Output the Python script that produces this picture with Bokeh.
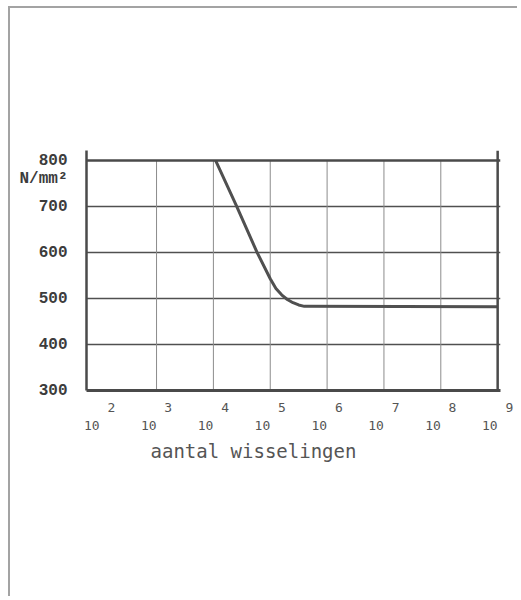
from bokeh.plotting import figure
from bokeh.models import (LinearAxis, FixedTicker, Span, ColumnDataSource)
from bokeh.embed import file_html
from bokeh.resources import INLINE

# ---- data ----
x_exponents = [2, 3, 4, 5, 6, 7, 8, 9]          # log10 of number of cycles
x_grid = [3, 4, 5, 6, 7, 8]
y_ticks = [300, 400, 500, 600, 700, 800]        # N/mm^2
curve_log_n = [4.04, 4.4, 4.77, 5.0, 5.1, 5.2, 5.3, 5.4, 5.5, 5.6, 9.0]
curve_stress = [800, 703, 600, 543, 522, 508, 498, 491, 486, 483, 482]
x_title = "aantal wisselingen"
y_unit = "N/mm²"

NB = "\u00a0"
INK = "#4a4a4a"

p = figure(width=509, height=590, x_range=(1.768, 9.05), y_range=(300, 822),
           output_backend="svg", toolbar_location=None,
           min_border_left=76, min_border_right=19, min_border_top=142,
           min_border_bottom=208, background_fill_color="white",
           border_fill_color="white")
p.outline_line_color = None
p.styles = {"border-top": "2px solid #a3a3a3", "border-left": "2px solid #a3a3a3",
            "margin-top": "6px", "margin-left": "8px"}

# unit label sits as an extra (grid-less) tick label just under the top value
unit_pos = max(y_ticks) - 0.4 * (y_ticks[1] - y_ticks[0])

# ---- y axis ----
ya = p.yaxis[0]
ya.ticker = FixedTicker(ticks=y_ticks + [unit_pos])
ya.major_label_overrides = {unit_pos: y_unit}
ya.axis_line_width = 2.5
ya.axis_line_color = INK
ya.major_tick_line_color = None
ya.minor_tick_line_color = None
ya.major_label_standoff = 13
ya.major_label_text_font = "Liberation Mono"
ya.major_label_text_font_style = "bold"
ya.major_label_text_font_size = "16px"
ya.major_label_text_color = "#3c3c3c"

# ---- x axis: exponent row ----
xa = p.xaxis[0]
xa.ticker = FixedTicker(ticks=x_exponents)
xa.major_label_overrides = {e: NB * 3 + str(e) for e in x_exponents}
xa.axis_line_width = 3
xa.axis_line_color = INK
xa.major_tick_line_color = None
xa.minor_tick_line_color = None
xa.major_label_standoff = 3
xa.major_label_text_font = "DejaVu Sans Mono"
xa.major_label_text_font_size = "13px"
xa.major_label_text_color = "#555555"

# ---- x axis: base "10" row + title ----
xb = LinearAxis(ticker=FixedTicker(ticks=x_exponents),
                major_label_overrides={e: "10" + NB * 2 for e in x_exponents},
                axis_line_color=None, major_tick_line_color=None,
                minor_tick_line_color=None, major_label_standoff=-6,
                major_label_text_font="DejaVu Sans Mono",
                major_label_text_font_size="13px",
                major_label_text_color="#555555",
                axis_label=x_title + NB * 7, axis_label_standoff=4,
                axis_label_text_font="DejaVu Sans Mono",
                axis_label_text_font_size="19px",
                axis_label_text_font_style="normal",
                axis_label_text_color="#555555")
p.add_layout(xb, "below")

# ---- grid ----
p.xgrid.visible = False
p.ygrid.ticker = FixedTicker(ticks=y_ticks[1:-1])
p.ygrid.grid_line_color = "#505050"
p.ygrid.grid_line_width = 1.5

p.segment(x0=x_grid, y0=[min(y_ticks)] * len(x_grid),
          x1=x_grid, y1=[max(y_ticks)] * len(x_grid),
          line_color="#8c8c8c", line_width=1)

p.add_layout(Span(location=max(y_ticks), dimension="width",
                  line_color=INK, line_width=2.5))
p.add_layout(Span(location=max(x_exponents), dimension="height",
                  line_color=INK, line_width=2.5))

# ---- curve ----
src = ColumnDataSource(dict(x=curve_log_n, y=curve_stress))
p.line("x", "y", source=src, line_color="#505050", line_width=3)

open("out.html", "w").write(file_html(p, INLINE))
